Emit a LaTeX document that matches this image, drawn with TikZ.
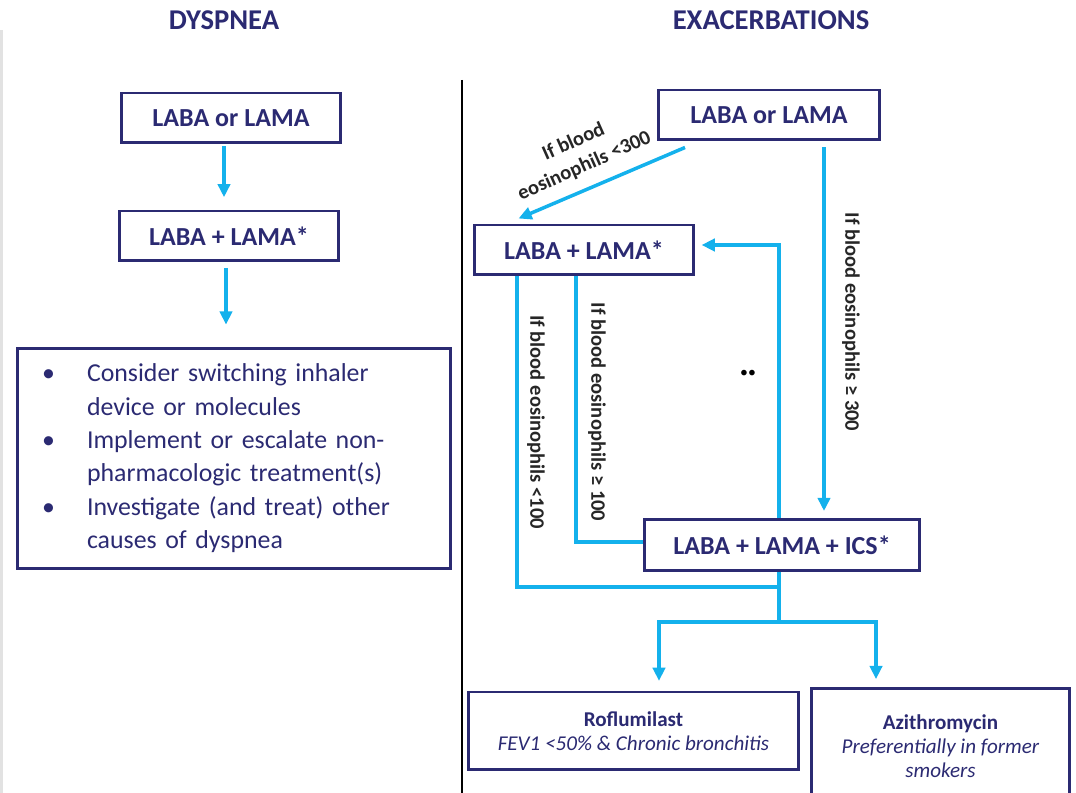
\documentclass[tikz,border=0pt]{standalone}
\usepackage{fontspec}
\setmainfont{Carlito}
\usetikzlibrary{positioning,calc,arrows.meta}
\definecolor{navy}{HTML}{2B2A72}
\definecolor{sky}{HTML}{14B1EC}
\definecolor{edge}{HTML}{E2E2E2}

\begin{document}
\begin{tikzpicture}[
    x=0.02cm, y=-0.02cm,
    box/.style={rectangle, draw=navy, line width=1.7pt, text=navy, inner sep=0pt, align=center,
        font=\fontsize{14.8}{17}\selectfont\bfseries},
    head/.style={text=navy, font=\fontsize{16.3}{18}\selectfont\bfseries},
    arrow/.style={draw=sky, line width=2pt, -{Triangle[width=7pt,length=7.5pt]}},
    link/.style={draw=sky, line width=2pt},
    lbl/.style={text=black!85, align=center, font=\fontsize{11.7}{14}\selectfont\bfseries}
]
    \clip (0,0) rectangle (1076,793);
    \fill[edge] (0,30) rectangle (3,793);

    % headings and divider
    \node[head] (hDys) at (224,20) {DYSPNEA};
    \node[head] (hExa) at (771,20) {EXACERBATIONS};
    \draw[line width=1.6pt] (462,80) -- (462,793);

    % dyspnea column
    \node[box, minimum width=4.4cm, minimum height=1cm] (L1) at (231,118) {LABA or LAMA};
    \node[box, minimum width=4.4cm, minimum height=1cm] (L2) at (229,236) {LABA + LAMA*};
    \node[box, text width=7.68cm, inner xsep=0.5cm, minimum height=4.42cm, align=left,
        font=\fontsize{14.7}{19}\selectfont] (L3) at (234,458.5) {%
        \begin{tabular}{@{}p{0.9cm}@{}l@{}}
        \textbullet & Consider switching inhaler\\
                    & device or molecules\\
        \textbullet & Implement or escalate non-\\
                    & pharmacologic treatment(s)\\
        \textbullet & Investigate (and treat) other\\
                    & causes of dyspnea
        \end{tabular}};

    \coordinate (xd1) at (224,0);
    \coordinate (xd2) at (226,0);
    \draw[arrow, shorten <=1pt, shorten >=7pt] (L1.south -| xd1) -- (L2.north -| xd1);
    \draw[arrow, shorten <=3pt, shorten >=12.5pt] (L2.south -| xd2) -- (L3.north -| xd2);

    % exacerbations column
    \node[box, minimum width=4.42cm, minimum height=1cm] (R1) at (769,115) {LABA or LAMA};
    \node[box, minimum width=4.4cm, minimum height=1cm] (R2) at (584,250) {LABA + LAMA*};
    \node[box, minimum width=5.52cm, minimum height=1.02cm] (R3) at (782,545) {LABA + LAMA + ICS*};
    \node[box, minimum width=6.62cm, minimum height=1.56cm, font=\fontsize{12}{13.5}\selectfont] (Rof) at (633.5,731)
        {\textbf{Roflumilast}\\\textit{FEV1 <50\% \& Chronic bronchitis}};
    \node[box, minimum width=5.18cm, minimum height=2.3cm, font=\fontsize{12}{13.5}\selectfont] (Azi) at (940.5,746)
        {\textbf{Azithromycin}\\\textit{Preferentially in former}\\\textit{smokers}};

    \coordinate (x300) at (824,0);
    \coordinate (xback) at (779,0);
    \coordinate (merge) at (779,587);
    \coordinate (split) at (779,622);

    \draw[arrow] ([xshift=0.56cm,yshift=-0.12cm]R1.south west) -- ([xshift=0.92cm,yshift=0.1cm]R2.north west);
    \node[lbl, rotate=24, font=\fontsize{11.7}{15}\selectfont\bfseries] (l300) at (579,154) {If blood\\eosinophils <300};
    \draw[arrow, shorten <=3.4pt, shorten >=4pt] (R1.south -| x300) -- (R3.north -| x300);
    \node[lbl, rotate=-90] (g300) at (851,322) {If blood eosinophils ≥ 300};
    \draw[arrow, shorten >=3.5pt] (R3.north -| xback) |- ([yshift=0.1cm]R2.east);
    \node[font=\fontsize{9}{9}\selectfont] (dots) at (748,374) {••};

    \draw[link] ([xshift=-0.16cm]R2.south) |- ([yshift=0.06cm]R3.west);
    \node[lbl, rotate=-90] (g100) at (597,412) {If blood eosinophils ≥ 100};
    \draw[link] ([xshift=-1.34cm]R2.south) |- (merge);
    \node[lbl, rotate=-90] (l100) at (536,422) {If blood eosinophils <100};

    \draw[link] (R3.south -| xback) -- (split);
    \draw[arrow, shorten >=5.5pt] (split) -| ([xshift=0.51cm]Rof.north);
    \draw[arrow, shorten >=4.5pt] (split) -| ([xshift=-1.29cm]Azi.north);

\end{tikzpicture}
\end{document}
